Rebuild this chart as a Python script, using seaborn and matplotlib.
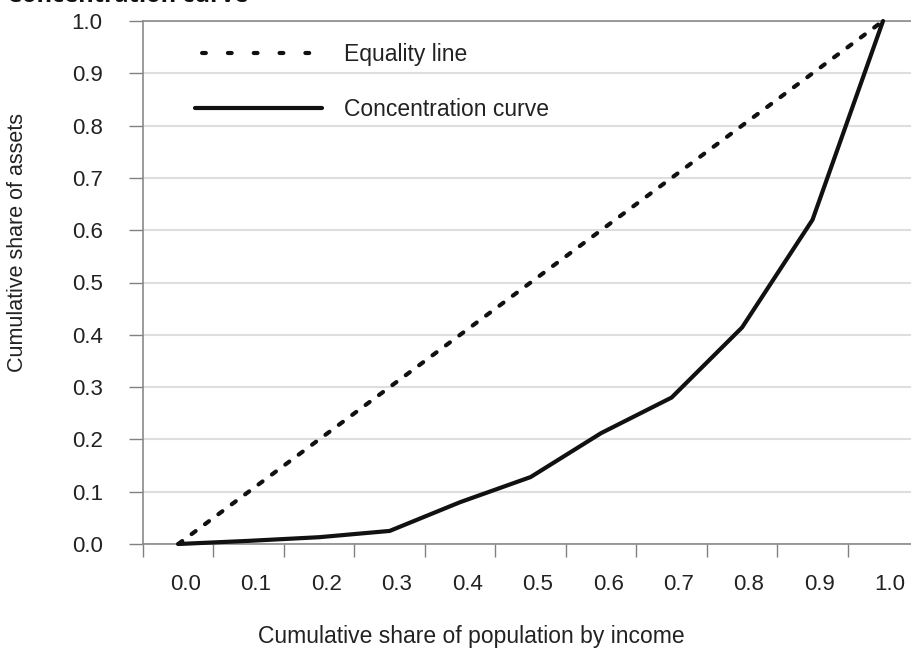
import numpy as np
import pandas as pd
import matplotlib
matplotlib.use("Agg")
import matplotlib.pyplot as plt
import matplotlib.transforms as mtrans
from matplotlib.lines import Line2D
import seaborn as sns

# ---- data ----
population_share = [0.0, 0.1, 0.2, 0.3, 0.4, 0.5, 0.6, 0.7, 0.8, 0.9, 1.0]
asset_share = [0.0, 0.006, 0.013, 0.025, 0.08, 0.128, 0.212, 0.28, 0.414, 0.62, 1.0]
equality_share = [0.0, 0.1, 0.2, 0.3, 0.4, 0.5, 0.6, 0.7, 0.8, 0.9, 1.0]
x_tick_labels = ["0.0", "0.1", "0.2", "0.3", "0.4", "0.5", "0.6", "0.7", "0.8", "0.9", "1.0"]
y_tick_values = [0.0, 0.1, 0.2, 0.3, 0.4, 0.5, 0.6, 0.7, 0.8, 0.9, 1.0]
y_tick_labels = ["0.0", "0.1", "0.2", "0.3", "0.4", "0.5", "0.6", "0.7", "0.8", "0.9", "1.0"]
series_names = ["Equality line", "Concentration curve"]

sns.set_theme(style="white")
plt.rcParams["font.family"] = ["Liberation Sans", "DejaVu Sans"]

W, H = 912, 655
fig = plt.figure(figsize=(W / 100, H / 100), dpi=100)
ax = fig.add_axes([143 / W, 111 / H, (W - 143) / W, 523 / H])

df = pd.DataFrame({"x": population_share, "eq": equality_share, "cc": asset_share})

eq_style = (0, (1.2, 2.8))
sns.lineplot(data=df, x="x", y="eq", ax=ax, color="#111111", lw=3,
             linestyle=eq_style, dash_capstyle="round", clip_on=False, zorder=3)
sns.lineplot(data=df, x="x", y="cc", ax=ax, color="#111111", lw=3,
             solid_capstyle="round", solid_joinstyle="round", clip_on=False, zorder=4)

ax.set_xlim(-0.05, (W - 178) / 705)
ax.set_ylim(0, 1)

# y axis
ax.set_yticks(y_tick_values)
ax.set_yticklabels(y_tick_labels)
ax.yaxis.grid(True, color="#dedede", lw=1.5)
ax.set_axisbelow(True)
ax.tick_params(axis="y", which="major", left=True, length=10, width=1, color="#808080",
               pad=19, labelsize=16, labelcolor="#222222")

# x axis: labels at data values, tick marks between them
ax.set_xticks(population_share)
ax.set_xticklabels(x_tick_labels)
ax.set_xticks([p - 0.05 for p in population_share], minor=True)
ax.tick_params(axis="x", which="major", bottom=True, length=0, pad=21.5,
               labelsize=16, labelcolor="#222222")
ax.tick_params(axis="x", which="minor", bottom=True, length=9.4, width=1, color="#808080")
offset = mtrans.ScaledTranslation(7 / 100, 0, fig.dpi_scale_trans)
for lab in ax.get_xticklabels():
    lab.set_transform(lab.get_transform() + offset)

for side in ["top", "bottom", "left"]:
    ax.spines[side].set_visible(True)
    ax.spines[side].set_color("#8a8a8a")
    ax.spines[side].set_linewidth(1.2)
ax.spines["right"].set_visible(False)

ax.set_xlabel("Cumulative share of population by income", fontsize=16.5, color="#222222")
ax.xaxis.set_label_coords(471 / W, 18 / H, transform=fig.transFigure)
ax.xaxis.label.set_va("center")
ax.set_ylabel("Cumulative share of assets", fontsize=15.5, color="#222222")
ax.yaxis.set_label_coords(18 / W, (H - 242) / H, transform=fig.transFigure)
ax.yaxis.label.set_va("center")

handles = [
    Line2D([], [], color="#111111", lw=3, linestyle=(4.5, (0.9, 5.3)), dash_capstyle="round"),
    Line2D([], [], color="#111111", lw=3),
]
leg = fig.legend(handles, series_names, loc="upper left",
                 bbox_to_anchor=(195 / W, (H - 43) / H), frameon=False,
                 fontsize=16.5, handlelength=5.55, handletextpad=0.95,
                 labelspacing=1.4, borderpad=0, borderaxespad=0)
for t in leg.get_texts():
    t.set_color("#222222")

fig.text(7 / W, (H - 2) / H, "Concentration curve", fontsize=17, fontweight="bold",
         family=["Open Sans", "DejaVu Sans"], va="baseline", ha="left", color="#111111")

fig.savefig("out.png", dpi=100)
